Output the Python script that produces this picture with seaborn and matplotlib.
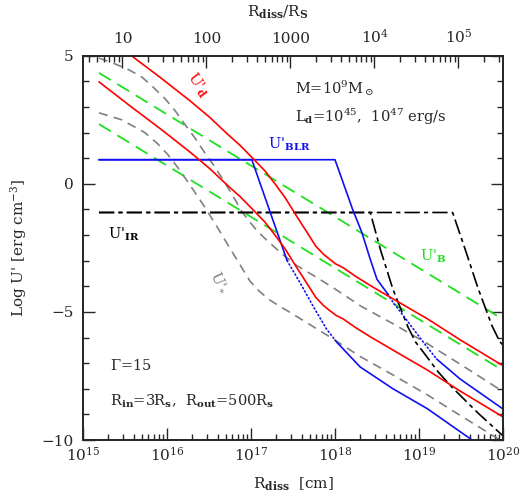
import numpy as np
import seaborn as sns
import matplotlib.pyplot as plt
from matplotlib.ticker import MultipleLocator, NullFormatter, FixedLocator, LogLocator

# log10 R_diss [cm] and log10 U' [erg cm^-3]
RS = 2.95e14  # Schwarzschild radius for M = 1e9 Msun

logr_d = [15.19, 15.56, 15.92, 16.27, 16.51, 16.71, 16.87, 17.02, 17.17, 17.29,
          17.41, 17.55, 17.68, 17.77, 17.86, 17.93, 18.01, 18.10, 18.24, 18.42,
          18.69, 19.10, 19.49, 20.0]
ud_45 = [3.98, 3.04, 2.15, 1.25, 0.59, -0.03, -0.50, -1.00, -1.51, -2.02,
         -2.56, -3.30, -3.96, -4.43, -4.74, -4.93, -5.13, -5.28, -5.60, -5.97,
         -6.49, -7.27, -8.09, -9.10]
ud_47 = [5.98, 5.04, 4.15, 3.25, 2.59, 1.97, 1.50, 1.00, 0.49, -0.02,
         -0.56, -1.30, -1.96, -2.43, -2.74, -2.93, -3.13, -3.28, -3.60, -3.97,
         -4.49, -5.27, -6.09, -7.10]

logr_star_47 = [15.19, 15.38, 15.54, 15.70, 15.82, 15.98, 16.10, 16.21, 16.33, 16.45,
                16.55, 16.66, 16.79, 16.89, 16.99, 17.08, 17.19, 17.35, 17.52, 17.82,
                18.06, 18.30, 18.69, 19.10, 19.49, 20.0]
ustar_47 = [4.91, 4.68, 4.46, 4.17, 3.82, 3.31, 2.84, 2.33, 1.80, 1.21,
            0.75, 0.20, -0.50, -1.08, -1.51, -1.86, -2.21, -2.68, -3.14, -3.73,
            -4.23, -4.76, -5.46, -6.24, -7.04, -8.11]
logr_star_45 = [15.19, 15.46, 15.74, 15.89, 16.01, 16.13, 16.27, 16.43, 16.60, 16.75,
                16.91, 16.99, 17.11, 17.23, 17.35, 17.44, 17.55, 17.94, 18.30, 18.69,
                19.10, 19.49, 20.0]
ustar_45 = [2.77, 2.50, 1.99, 1.56, 1.14, 0.63, -0.03, -0.81, -1.70, -2.52,
            -3.38, -3.81, -4.23, -4.55, -4.80, -4.97, -5.19, -5.98, -6.74, -7.46,
            -8.24, -9.04, -10.07]

logr_b = [15.19, 20.0]
ub_47 = [4.33, -5.29]
ub_45 = [2.33, -7.29]

# BLR: solid / dotted / solid pieces
blr47_r1 = [15.19, 18.0, 18.21, 18.32, 18.42, 18.50, 18.63]
blr47_u1 = [0.94, 0.94, -1.00, -1.90, -2.95, -3.73, -4.31]
blr47_r2 = [18.63, 18.69, 18.89, 19.07, 19.21]
blr47_u2 = [-4.31, -4.62, -5.48, -6.26, -6.84]
blr47_r3 = [19.21, 19.49, 20.0]
blr47_u3 = [-6.84, -7.62, -8.79]

blr45_r1 = [15.19, 17.01, 17.43]
blr45_u1 = [0.94, 0.94, -3.00]
blr45_r2 = [17.43, 17.58, 17.74, 17.90, 18.02]
blr45_u2 = [-3.00, -3.84, -4.78, -5.67, -6.18]
blr45_r3 = [18.02, 18.30, 18.69, 19.10, 19.61, 19.66]
blr45_u3 = [-6.18, -7.15, -8.00, -8.78, -9.95, -10.1]

logr_ir45 = [15.19, 18.42, 18.54, 18.69, 18.87, 18.96, 19.07, 19.23, 19.39, 19.70, 20.0]
uir_45 = [-1.12, -1.12, -2.56, -4.12, -5.60, -6.18, -6.65, -7.35, -7.93, -8.94, -9.84]
logr_ir47 = [15.19, 19.40, 19.55, 19.70, 19.87, 19.96, 20.0]
uir_47 = [-1.12, -1.12, -2.56, -4.05, -5.55, -6.15, -6.30]

sns.set_style("ticks")
plt.rcParams['font.family'] = ['DejaVu Serif']
plt.rcParams['mathtext.fontset'] = 'dejavuserif'
plt.rcParams['lines.scale_dashes'] = False
plt.rcParams['font.size'] = 10

RED = '#ff0000'
GREEN = '#1ee01e'
BLUE = '#1010f0'
GREY = '#808080'

fig = plt.figure(figsize=(5.24, 4.99), dpi=100)
ax = fig.add_axes([83 / 524, 1 - 440 / 499, 420 / 524, 384.3 / 499])


def draw(logr, logu, color, dashes=None, lw=1.2, cap='butt'):
    sns.lineplot(x=10 ** np.asarray(logr), y=logu, ax=ax, color=color, lw=lw,
                 estimator=None, sort=False)
    line = ax.lines[-1]
    if dashes is not None:
        line.set_dashes(dashes)
        line.set_dash_capstyle(cap)
    return line


draw(logr_b, ub_47, GREEN, dashes=(10, 5.5), lw=1.3)
draw(logr_b, ub_45, GREEN, dashes=(10, 5.5), lw=1.3)
draw(logr_star_47, ustar_47, GREY, dashes=(6.5, 4.5))
draw(logr_star_45, ustar_45, GREY, dashes=(6.5, 4.5))
draw(logr_ir45, uir_45, 'black', dashes=(11, 3, 3, 3))
draw(logr_ir47, uir_47, 'black', dashes=(11, 3, 3, 3))
for r, u, d in [(blr47_r1, blr47_u1, None), (blr47_r2, blr47_u2, (0.8, 2.0)),
                (blr47_r3, blr47_u3, None), (blr45_r1, blr45_u1, None),
                (blr45_r2, blr45_u2, (0.8, 2.0)), (blr45_r3, blr45_u3, None)]:
    draw(r, u, BLUE, dashes=d, cap='round')
draw(logr_d, ud_45, RED)
draw(logr_d, ud_47, RED)

ax.set_xscale('log')
ax.set_xlim(1e15, 1e20)
ax.set_ylim(-10, 5)
ax.yaxis.set_major_locator(MultipleLocator(5))
ax.yaxis.set_minor_locator(MultipleLocator(1))
ax.xaxis.set_minor_locator(LogLocator(base=10, subs=np.arange(2, 10)))
ax.xaxis.set_minor_formatter(NullFormatter())
ax.tick_params(which='both', direction='in', right=True, top=False, width=1.0)
ax.tick_params(which='major', length=8.5, labelsize=11)
ax.tick_params(axis='x', which='major', pad=4)
ax.tick_params(axis='y', which='major', pad=7)
ax.tick_params(which='minor', length=4.3)
for s in ax.spines.values():
    s.set_linewidth(1.3)
ax.set_xlabel(r"R$_{\mathbf{diss}}$  [cm]", fontsize=11, labelpad=9)
ax.set_ylabel(r"Log U' [erg cm$^{-3}$]", fontsize=11, labelpad=9)

ax2 = ax.twiny()
ax2.set_xscale('log')
ax2.set_xlim(1e15 / RS, 1e20 / RS)
ax2.xaxis.set_major_locator(FixedLocator([10, 100, 1000, 1e4, 1e5]))
ax2.set_xticklabels(['10', '100', '1000', r'10$^4$', r'10$^5$'])
ax2.xaxis.set_minor_locator(LogLocator(base=10, subs=np.arange(2, 10)))
ax2.xaxis.set_minor_formatter(NullFormatter())
ax2.tick_params(which='both', direction='in', width=1.0)
ax2.tick_params(which='major', length=8.5, labelsize=11, pad=7)
ax2.tick_params(which='minor', length=4.3)
for s in ax2.spines.values():
    s.set_linewidth(1.3)
fig.text(278 / 524, 1 - 12 / 499, r"R$_{\mathbf{diss}}$/R$_{\mathbf{S}}$",
         ha='center', va='center', fontsize=11)

ax.text(10 ** 16.36, 3.86, r"U'$_{\mathbf{d}}$", color=RED, fontsize=11,
        rotation=-55, ha='center', va='center')
ax.text(10 ** 17.20, 1.53, r"U'$_{\mathbf{BLR}}$", color=BLUE, fontsize=10.5,
        ha='left', va='center')
ax.text(10 ** 15.30, -1.98, r"U'$_{\mathbf{IR}}$", color='black', fontsize=10.5,
        ha='left', va='center')
ax.text(10 ** 19.01, -2.83, r"U'$_{\mathbf{B}}$", color=GREEN, fontsize=10.5,
        ha='left', va='center')
ax.text(10 ** 16.63, -3.85, r"U'$_{*}$", color=GREY, fontsize=10.5,
        rotation=-65, ha='center', va='center')
ax.text(10 ** 17.52, 3.74, r"M=10$^9$M$_\odot$", fontsize=10.5, ha='left', va='center')
ax.text(10 ** 17.52, 2.61, r"L$_{\mathbf{d}}$=10$^{45}$,  10$^{47}$ erg/s",
        fontsize=10.5, ha='left', va='center')
ax.text(10 ** 15.32, -7.11, r"$\Gamma$=15", fontsize=10.5, ha='left', va='center')
ax.text(10 ** 15.32, -8.47, r"R$_{\mathbf{in}}$=3R$_{\mathbf{s}}$,  R$_{\mathbf{out}}$=500R$_{\mathbf{s}}$",
        fontsize=10.5, ha='left', va='center')

fig.savefig('out.png', dpi=100)
